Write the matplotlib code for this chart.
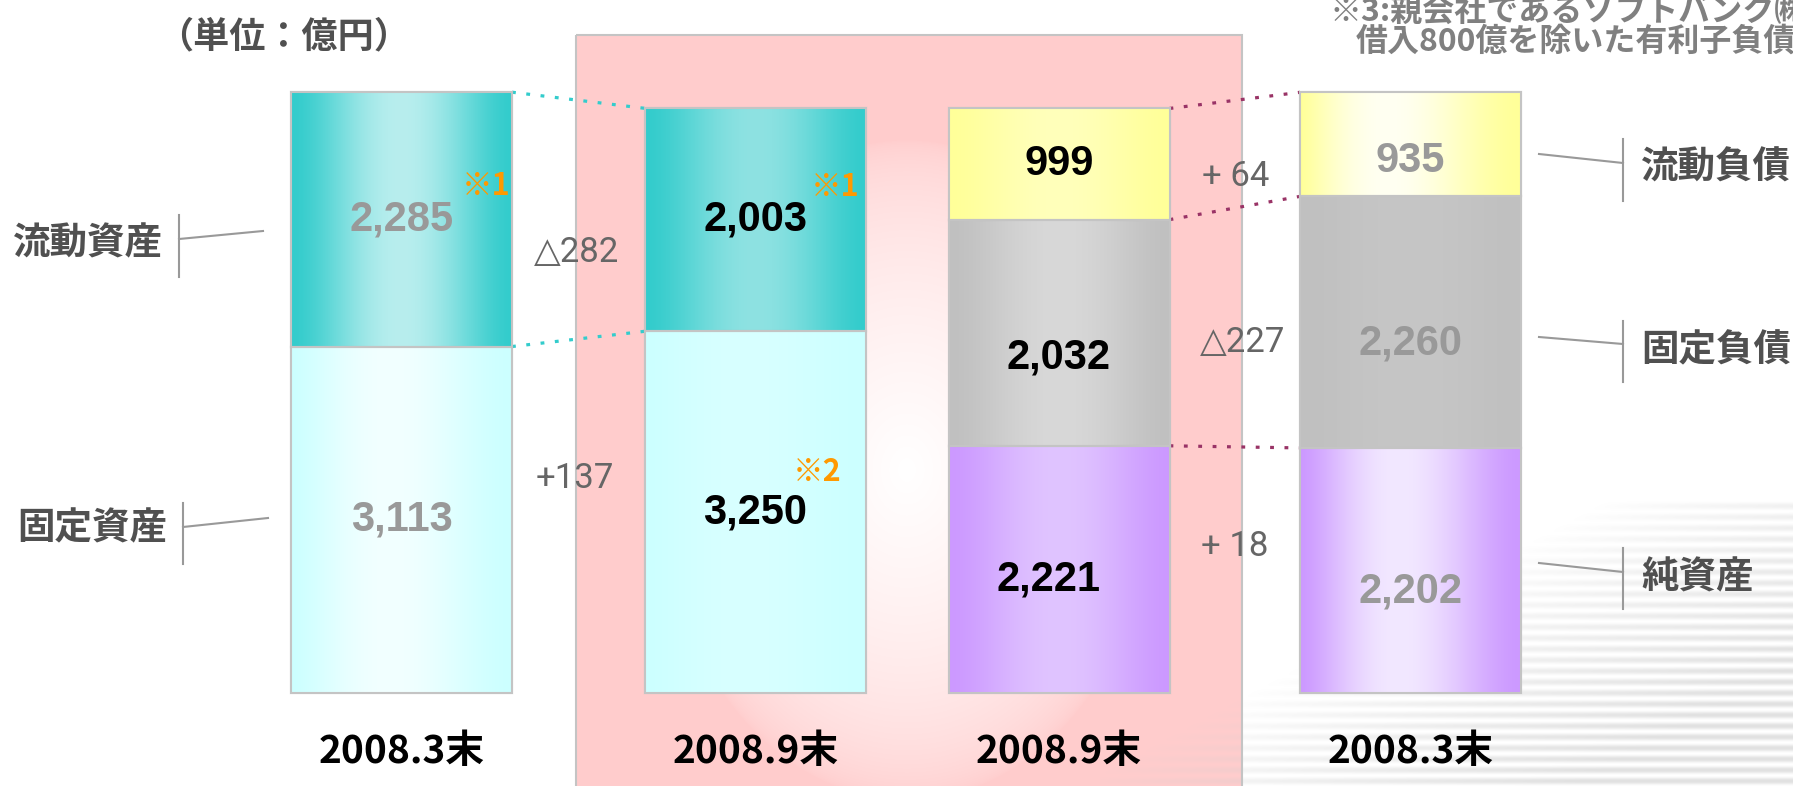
import numpy as np
import matplotlib
matplotlib.use('Agg')
import matplotlib.pyplot as plt
from matplotlib.colors import to_rgb
from matplotlib.patches import Rectangle

# ---------------- data ----------------
periods = ['2008.3末', '2008.9末', '2008.9末', '2008.3末']
asset_labels = ['流動資産', '固定資産']
liab_labels = ['流動負債', '固定負債', '純資産']
# assets: [current assets, fixed assets]
assets_2008_3 = [2285, 3113]
assets_2008_9 = [2003, 3250]
# liabilities & net assets: [current liab, fixed liab, net assets]
liab_2008_9 = [999, 2032, 2221]
liab_2008_3 = [935, 2260, 2202]
asset_changes = ['△282', '+137']
liab_changes = ['+ 64', '△227', '+ 18']
unit_title = '（単位：億円）'
note_lines = ['※3:親会社であるソフトバンク㈱からの', '借入800億を除いた有利子負債']

# ---------------- figure ----------------
W, H = 1793, 786
fig = plt.figure(figsize=(W / 100, H / 100), dpi=100)
fig.patch.set_facecolor('white')
bg = fig.add_axes([0, 0, 1, 1])
bg.set_xlim(0, W); bg.set_ylim(H, 0); bg.axis('off')

CJK = ['Noto Sans CJK JP', 'DejaVu Sans']
NUM = ['Liberation Sans', 'DejaVu Sans']
DLT = ['Roboto', 'DejaVu Sans', 'Noto Sans CJK JP']

# pink highlight panel with radial white glow
px0, px1, py0, py1 = 576, 1242, 35, 786
xx, yy = np.meshgrid(np.arange(px0, px1) + 0.5, np.arange(py0, py1) + 0.5)
r = np.sqrt(((xx - 907) / 250) ** 2 + ((yy - 470) / 330) ** 2)
t = np.clip(1 - r, 0, 1) ** 0.55
pink = np.array(to_rgb('#ffcccc'))
img = pink[None, None, :] * (1 - t[..., None]) + t[..., None]
bg.imshow(img, extent=(px0, px1, py1, py0), aspect='auto', zorder=0,
          interpolation='bilinear')
bg.add_patch(Rectangle((px0, py0), px1 - px0, py1 - py0 + 10, fill=False,
                       ec='#c4c4c4', lw=1.5, zorder=1))

# decorative stripes lower right
sx0, sy0 = 1100, 500
xx, yy = np.meshgrid(np.arange(sx0, W) + 0.5, np.arange(sy0, H) + 0.5)
u = (xx - 1300) / 493.0
v = (yy - 520) / 266.0
fade = np.clip(u + v - 0.55, 0, 1) ** 0.8
stripe = 0.5 + 0.5 * np.cos(2 * np.pi * yy / 11.0)
rgba = np.zeros(xx.shape + (4,))
rgba[..., :3] = 0.8
rgba[..., 3] = fade * stripe * 0.6
bg.imshow(rgba, extent=(sx0, W, H, sy0), aspect='auto', zorder=0,
          interpolation='bilinear')

# bar axes (y in 億円)
ax = fig.add_axes([0, 0, 1, 1])
ax.patch.set_alpha(0); ax.axis('off')
BASE_PX, SCALE = 693, 0.1113
ylim = (-(H - BASE_PX) / SCALE, BASE_PX / SCALE)

x_pos = [401.5, 755.5, 1059, 1410.5]
bar_w = 221

# styles: (edge colour, highlight colour, highlight position)
st = {
    'cur1': ('#33cccc', '#b8eeee', 0.5), 'fix1': ('#ccffff', '#f2ffff', 0.45),
    'cur2': ('#33cccc', '#8ee2e2', 0.5), 'fix2': ('#ccffff', '#d8ffff', 0.45),
    'cl3': ('#ffff99', '#ffffbb', 0.5), 'fl3': ('#c0c0c0', '#d8d8d8', 0.5),
    'na3': ('#cc99ff', '#e0c4ff', 0.5),
    'cl4': ('#ffff99', '#fffff2', 0.4), 'fl4': ('#c0c0c0', '#c6c6c6', 0.5),
    'na4': ('#cc99ff', '#f2e8ff', 0.45),
}

# bottom -> top segments
bars = [
    ([assets_2008_3[1], assets_2008_3[0]], ['fix1', 'cur1'], '#999999', [(0, 0), (0, 0)]),
    ([assets_2008_9[1], assets_2008_9[0]], ['fix2', 'cur2'], 'black', [(0, 0), (0, 0)]),
    ([liab_2008_9[2], liab_2008_9[1], liab_2008_9[0]], ['na3', 'fl3', 'cl3'], 'black',
     [(-11, 10), (0, 25), (0, 0)]),
    ([liab_2008_3[2], liab_2008_3[1], liab_2008_3[0]], ['na4', 'fl4', 'cl4'], '#999999',
     [(0, 21), (0, 21), (0, 17)]),
]


def gradient(edge, mid, pos, n=256):
    x = np.linspace(0, 1, n)
    a = np.log(0.5) / np.log(pos)
    w = np.sin(np.pi * x ** a) ** 1.6
    e, m = np.array(to_rgb(edge)), np.array(to_rgb(mid))
    return e[None, :] * (1 - w[:, None]) + m[None, :] * w[:, None]


label_pos = {}
for i, (vals, keys, tcol, offs) in enumerate(bars):
    bottom = 0
    for val, key, off in zip(vals, keys, offs):
        edge, mid, pos = st[key]
        p = ax.bar(x_pos[i], val, bar_w, bottom=bottom, color=edge,
                   edgecolor='#c4c4c4', linewidth=1.5, zorder=3)[0]
        g = gradient(edge, mid, pos)
        im = ax.imshow(g[None, :, :], extent=(p.get_x(), p.get_x() + p.get_width(),
                                             p.get_y(), p.get_y() + p.get_height()),
                       aspect='auto', zorder=3.5, interpolation='bilinear')
        im.set_clip_path(p)
        ax.add_patch(Rectangle((p.get_x(), p.get_y()), p.get_width(), p.get_height(),
                               fill=False, ec='#c4c4c4', lw=1.5, zorder=4))
        ax.annotate(f'{val:,}', (x_pos[i], bottom + val / 2), xytext=(off[0], -off[1]),
                    textcoords='offset pixels', ha='center', va='center',
                    fontsize=30, fontweight='bold', color=tcol, family=NUM, zorder=5)
        label_pos[(i, key)] = (x_pos[i], bottom + val / 2)
        bottom += val

# note markers
for (i, key), mark, (dx, dy) in [((0, 'cur1'), '※1', (85, 33)),
                                 ((1, 'cur2'), '※1', (80, 33)),
                                 ((1, 'fix2'), '※2', (62, 40))]:
    ax.annotate(mark, label_pos[(i, key)], xytext=(dx, dy), textcoords='offset pixels',
                ha='center', va='center', fontsize=22, fontweight='bold',
                color='#ff9900', family=CJK, zorder=5)

# dotted connectors
def connect(i, j, ys_i, ys_j, color):
    xr = x_pos[i] + bar_w / 2
    xl = x_pos[j] - bar_w / 2
    for a, b in zip(ys_i, ys_j):
        ax.plot([xr, xl], [a, b], color=color, lw=2.3, ls=(0, (1.2, 3.3)),
                solid_capstyle='butt', dash_capstyle='butt', zorder=2)

c1 = np.cumsum([assets_2008_3[1], assets_2008_3[0]])
c2 = np.cumsum([assets_2008_9[1], assets_2008_9[0]])
connect(0, 1, c1, c2, '#33cccc')
c3 = np.cumsum([liab_2008_9[2], liab_2008_9[1], liab_2008_9[0]])
c4 = np.cumsum([liab_2008_3[2], liab_2008_3[1], liab_2008_3[0]])
connect(2, 3, c3, c4, '#993366')

ax.set_xlim(0, W); ax.set_ylim(*ylim)

# change labels
for txt, (x, y) in zip(asset_changes, [(577, 252), (575, 478)]):
    bg.text(x, y, txt, ha='center', va='center', fontsize=25, color='#666666',
            family=DLT, fontweight='normal', zorder=3)
for txt, (x, y) in zip(liab_changes, [(1236, 177), (1243, 342), (1235, 547)]):
    bg.text(x, y, txt, ha='center', va='center', fontsize=25, color='#666666',
            family=DLT, fontweight='normal', zorder=3)

# period labels
for x, p in zip(x_pos, periods):
    bg.text(x, 752, p, ha='center', va='center', fontsize=28, fontweight='bold',
            color='black', family=CJK, zorder=3)

# category labels with brackets
lc = '#999999'
for lab, (ty, vx, v0, v1, s0, s1) in zip(asset_labels,
                                         [(243, 179, 215, 277, (179, 239), (263, 231)),
                                          (528, 183, 503, 564, (183, 527), (268, 518))]):
    bg.text(vx - 16, ty, lab, ha='right', va='center', fontsize=27, fontweight='bold',
            color='#505050', family=CJK)
    bg.plot([vx, vx], [v0, v1], color=lc, lw=1.5)
    bg.plot([s0[0], s1[0]], [s0[1], s1[1]], color=lc, lw=1.5)

for lab, (ty, v0, v1, s0, s1) in zip(liab_labels,
                                     [(167, 139, 201, (1539, 154), (1623, 163)),
                                      (350, 321, 382, (1539, 337), (1623, 344)),
                                      (577, 548, 609, (1539, 563), (1623, 572))]):
    bg.text(1641, ty, lab, ha='left', va='center', fontsize=27, fontweight='bold',
            color='#505050', family=CJK)
    bg.plot([1623, 1623], [v0, v1], color=lc, lw=1.5)
    bg.plot([s0[0], s1[0]], [s0[1], s1[1]], color=lc, lw=1.5)

# title and note
bg.text(284, 37, unit_title, ha='center', va='center', fontsize=26, fontweight='bold',
        color='#505050', family=CJK)
bg.text(1330, 12, note_lines[0], ha='left', va='center', fontsize=23, fontweight='bold',
        color='#808080', family=CJK)
bg.text(1356, 42, note_lines[1], ha='left', va='center', fontsize=23, fontweight='bold',
        color='#808080', family=CJK)

fig.savefig('out.png', dpi=100, facecolor='white')
